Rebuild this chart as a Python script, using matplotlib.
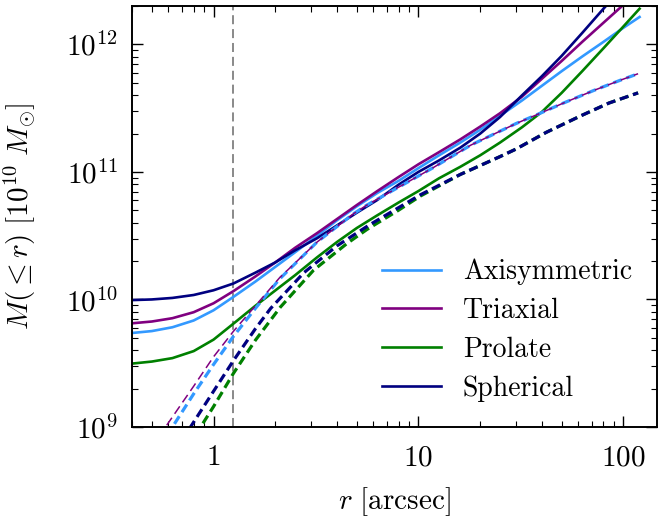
import numpy as np
import matplotlib
matplotlib.use("Agg")
import matplotlib.pyplot as plt

plt.rcParams['font.family'] = 'serif'
plt.rcParams['font.serif'] = ['cmr10']
plt.rcParams['mathtext.fontset'] = 'cm'
plt.rcParams['axes.unicode_minus'] = False
plt.rcParams['axes.formatter.use_mathtext'] = True
plt.rcParams['lines.scale_dashes'] = False

# total enclosed mass (solid lines), log10 of M
r_tot = [0.4, 0.5, 0.63, 0.8, 1.0, 1.25, 1.6, 2.0, 2.5, 3.2, 4.0, 5.0, 6.3, 8.0,
         10, 12.6, 16, 20, 25, 32, 40, 50, 63, 80, 100, 120]
logm_axi = [9.737, 9.752, 9.782, 9.835, 9.915, 10.02, 10.14, 10.255, 10.37, 10.50, 10.62,
            10.73, 10.835, 10.93, 11.03, 11.13, 11.23, 11.33, 11.44, 11.56, 11.675,
            11.79, 11.905, 12.02, 12.13, 12.215]
logm_tri = [9.813, 9.827, 9.853, 9.90, 9.97, 10.065, 10.18, 10.29, 10.405, 10.52, 10.63,
            10.74, 10.85, 10.96, 11.06, 11.155, 11.255, 11.355, 11.46, 11.59, 11.73,
            11.87, 12.02, 12.17, 12.31, 12.43]
logm_pro = [9.497, 9.513, 9.54, 9.595, 9.685, 9.81, 9.95, 10.07, 10.19, 10.33, 10.45,
            10.56, 10.66, 10.76, 10.85, 10.95, 11.04, 11.13, 11.23, 11.35, 11.47,
            11.62, 11.79, 11.97, 12.14, 12.28]
logm_sph = [9.995, 10.0, 10.012, 10.035, 10.072, 10.125, 10.21, 10.29, 10.385, 10.48,
            10.58, 10.68, 10.78, 10.90, 11.0, 11.09, 11.19, 11.30, 11.43, 11.60, 11.75,
            11.91, 12.09, 12.28, 12.45, 12.59]

# dashed lines
r_axi_d = [0.5, 0.63, 0.8, 1.0, 1.25, 1.6, 2.1, 3.2, 4.8, 5.6, 8.2, 11.7, 18, 30, 38,
           51, 72, 97, 118]
logm_axi_d = [8.75, 9.0, 9.26, 9.49, 9.71, 9.93, 10.16, 10.45, 10.67, 10.74, 10.89,
              11.03, 11.21, 11.38, 11.45, 11.54, 11.64, 11.72, 11.77]
r_tri_d = [0.5, 0.583, 0.8, 1.0, 1.25, 1.6, 2.1, 3.2, 4.8, 5.6, 8.2, 11.7, 18, 30, 38,
           51, 72, 97, 118]
logm_tri_d = [8.83, 9.0, 9.32, 9.55, 9.75, 9.95, 10.17, 10.45, 10.67, 10.74, 10.89,
              11.03, 11.21, 11.38, 11.45, 11.54, 11.64, 11.72, 11.77]
r_pro_d = [0.5, 0.865, 1.0, 1.25, 1.6, 2.12, 3.08, 4.49, 5.62, 8.0, 10.2, 16, 25, 30,
           42, 62, 85, 118]
logm_pro_d = [8.38, 9.0, 9.16, 9.42, 9.68, 9.94, 10.23, 10.44, 10.55, 10.70, 10.81,
              10.98, 11.12, 11.18, 11.31, 11.44, 11.54, 11.62]
r_sph_d = [0.5, 0.772, 1.0, 1.25, 1.6, 1.9, 2.76, 4.0, 5.7, 8.0, 10.2, 16, 25, 30, 42,
           62, 85, 118]
logm_sph_d = [8.53, 9.0, 9.28, 9.52, 9.77, 9.93, 10.21, 10.42, 10.58, 10.72, 10.82,
              10.98, 11.12, 11.18, 11.31, 11.44, 11.54, 11.62]

r_ref = 1.25

c_axi = '#3399ff'
c_tri = 'purple'
c_pro = 'green'
c_sph = 'navy'
dash = (6.5, 3.5)

fig = plt.figure(figsize=(6.59, 5.23), dpi=100)
ax = fig.add_axes([0.2003, 0.1836, 0.7967, 0.8049])

ax.axvline(r_ref, color='gray', lw=1.3, dashes=dash)

ax.plot(r_tot, 10**np.array(logm_axi), color=c_axi, lw=1.9, label='Axisymmetric')
ax.plot(r_tot, 10**np.array(logm_tri), color=c_tri, lw=1.9, label='Triaxial')
ax.plot(r_tot, 10**np.array(logm_pro), color=c_pro, lw=1.9, label='Prolate')
ax.plot(r_tot, 10**np.array(logm_sph), color=c_sph, lw=1.9, label='Spherical')

ax.plot(r_axi_d, 10**np.array(logm_axi_d), color=c_axi, lw=2.3, dashes=dash)
ax.plot(r_tri_d, 10**np.array(logm_tri_d), color=c_tri, lw=1.1, dashes=dash)
ax.plot(r_pro_d, 10**np.array(logm_pro_d), color=c_pro, lw=2.3, dashes=dash)
ax.plot(r_sph_d, 10**np.array(logm_sph_d), color=c_sph, lw=2.3, dashes=dash)

ax.set_xscale('log')
ax.set_yscale('log')
ax.set_xlim(0.4, 146)
ax.set_ylim(1e9, 2e12)
ax.set_xticks([1, 10, 100], labels=['$1$', '$10$', '$100$'])
ax.set_yticks([1e9, 1e10, 1e11, 1e12],
              labels=['$10^{9}$', '$10^{10}$', '$10^{11}$', '$10^{12}$'])

ax.tick_params(which='both', direction='in', top=True, right=True, labelsize=21)
ax.tick_params(axis='x', pad=13)
ax.tick_params(axis='y', pad=10)
ax.tick_params(which='major', length=8, width=1.0)
ax.tick_params(which='minor', length=4, width=0.8)
for s in ax.spines.values():
    s.set_linewidth(1.4)

ax.set_xlabel(r'$r\ [\mathrm{arcsec}]$', fontsize=21, labelpad=10)
ax.set_ylabel(r'$M(\leq r)\ [10^{10}\ M_{\odot}]$', fontsize=21, labelpad=20)

ax.legend(loc='lower right', frameon=False, fontsize=20, handlelength=2.1,
          handletextpad=0.8, labelspacing=0.45)

fig.savefig('out.png', dpi=100)
